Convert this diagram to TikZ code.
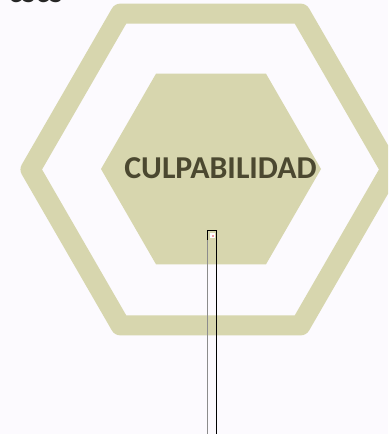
\documentclass[tikz,border=0pt]{standalone}
\usepackage{fontspec}
\setmainfont{Carlito}
\definecolor{bgc}{HTML}{FCFAFE}
\definecolor{olive}{HTML}{D7D6AE}
\definecolor{txt}{HTML}{4B4830}
\definecolor{pinkdot}{HTML}{F0A0A8}
\begin{document}
\begin{tikzpicture}[x=0.75pt,y=-0.75pt,
  hexring/.style={draw=olive,line width=15pt,line join=round},
  hexfill/.style={fill=olive},
  title/.style={text=txt,font=\fontsize{23.9}{28}\selectfont\bfseries,inner sep=0pt},
  bar/.style={draw=black,line width=0.75pt}]
\useasboundingbox (0,0) rectangle (388,434);
\fill[bgc] (0,0) rectangle (388,434);
\begin{scope}
\clip (0,0) rectangle (388,434);
\node[anchor=base west,inner sep=0pt,text=black!85,font=\fontsize{25}{30}\selectfont\bfseries] (top) at (8,2.5) {cscs};
\draw[hexring] (30.5,169.5) -- (120.5,13.6) -- (300.5,13.6) -- (390.5,169.5) -- (300.5,325.4) -- (120.5,325.4) -- cycle;
\fill[olive] (101,169) -- (156,73.7) -- (266,73.7) -- (321,169) -- (266,264.3) -- (156,264.3) -- cycle;
\node[title] (t) at (220.5,168) {CULPABILIDAD};
\draw[bar] (207.5,230.5) rectangle (216.5,440);
\draw[line width=0.75pt,draw=black!45] (207.5,240) -- (207.5,440);
\fill[white] (210,233) rectangle (215,238);
\fill[pinkdot] (211.5,234.5) rectangle (213.5,236.5);
\end{scope}
\end{tikzpicture}
\end{document}
